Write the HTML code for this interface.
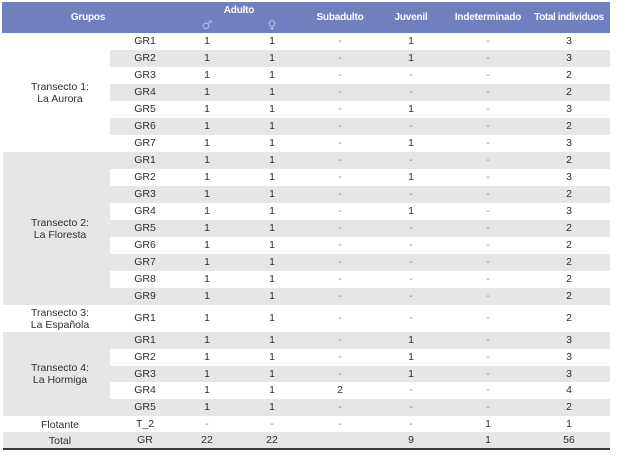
<!DOCTYPE html>
<html><head><meta charset="utf-8">
<style>
html,body{margin:0;padding:0;background:#fff;}
body{width:624px;height:455px;position:relative;overflow:hidden;font-family:"Liberation Sans",Arial,sans-serif;color:#2e2e2e;font-size:10.5px;}
.bg{position:absolute;background:#e6e6e6;}
.hd{position:absolute;left:2px;top:2px;width:608px;height:31px;background:#7080bf;}
.h{position:absolute;color:#fff;font-weight:bold;font-size:10px;letter-spacing:-0.2px;text-align:center;width:110px;margin-left:-55px;line-height:12px;}
.sym{position:absolute;color:#b4bde6;font-family:"DejaVu Sans",sans-serif;font-size:12px;width:20px;margin-left:-10px;text-align:center;line-height:12px;}
.row{position:absolute;left:0;width:624px;}
.row span{position:absolute;width:60px;text-align:center;}
.c1{left:115px}.c2{left:177px}.c3{left:242px}.c4{left:310px}.c5{left:381px}.c6{left:458px}.c7{left:539px}
.d{color:#888;}
.lab{position:absolute;left:0;width:120px;text-align:center;line-height:12px;}
.line{position:absolute;left:3px;top:448px;width:607px;height:2px;background:#3a3a3a;}
</style></head><body>
<div class="hd"></div>
<div class="h" style="left:88px;top:12px">Grupos</div>
<div class="h" style="left:239px;top:5px">Adulto</div>
<div class="sym" style="left:207px;top:19px">♂</div>
<div class="sym" style="left:272px;top:19px">♀</div>
<div class="h" style="left:340px;top:12px">Subadulto</div>
<div class="h" style="left:411px;top:12px">Juvenil</div>
<div class="h" style="left:488px;top:12px">Indeterminado</div>
<div class="h" style="left:569px;top:12px;letter-spacing:-0.4px">Total individuos</div>

<!-- backgrounds -->
<div class="bg" style="left:110px;top:50px;width:500px;height:17px"></div>
<div class="bg" style="left:110px;top:84px;width:500px;height:17px"></div>
<div class="bg" style="left:110px;top:118px;width:500px;height:17px"></div>
<div class="bg" style="left:3px;top:152px;width:107px;height:153px"></div>
<div class="bg" style="left:110px;top:152px;width:500px;height:17px"></div>
<div class="bg" style="left:110px;top:186px;width:500px;height:17px"></div>
<div class="bg" style="left:110px;top:220px;width:500px;height:17px"></div>
<div class="bg" style="left:110px;top:254px;width:500px;height:17px"></div>
<div class="bg" style="left:110px;top:288px;width:500px;height:17px"></div>
<div class="bg" style="left:3px;top:332px;width:107px;height:84px"></div>
<div class="bg" style="left:110px;top:332px;width:500px;height:16.8px"></div>
<div class="bg" style="left:110px;top:365.6px;width:500px;height:16.8px"></div>
<div class="bg" style="left:110px;top:399.2px;width:500px;height:16.8px"></div>
<div class="bg" style="left:3px;top:432px;width:607px;height:16px"></div>

<!-- labels -->
<div class="lab" style="top:81px">Transecto 1:<br>La Aurora</div>
<div class="lab" style="top:217px">Transecto 2:<br>La Floresta</div>
<div class="lab" style="top:307px">Transecto 3:<br>La Española</div>
<div class="lab" style="top:362px">Transecto 4:<br>La Hormiga</div>
<div class="lab" style="top:418px;line-height:14px">Flotante</div>
<div class="lab" style="top:434px;line-height:14px">Total</div>

<!-- T1 -->
<div class="row" style="top:33px;line-height:17px"><span class="c1">GR1</span><span class="c2">1</span><span class="c3">1</span><span class="c4 d">-</span><span class="c5">1</span><span class="c6 d">-</span><span class="c7">3</span></div>
<div class="row" style="top:50px;line-height:17px"><span class="c1">GR2</span><span class="c2">1</span><span class="c3">1</span><span class="c4 d">-</span><span class="c5">1</span><span class="c6 d">-</span><span class="c7">3</span></div>
<div class="row" style="top:67px;line-height:17px"><span class="c1">GR3</span><span class="c2">1</span><span class="c3">1</span><span class="c4 d">-</span><span class="c5 d">-</span><span class="c6 d">-</span><span class="c7">2</span></div>
<div class="row" style="top:84px;line-height:17px"><span class="c1">GR4</span><span class="c2">1</span><span class="c3">1</span><span class="c4 d">-</span><span class="c5 d">-</span><span class="c6 d">-</span><span class="c7">2</span></div>
<div class="row" style="top:101px;line-height:17px"><span class="c1">GR5</span><span class="c2">1</span><span class="c3">1</span><span class="c4 d">-</span><span class="c5">1</span><span class="c6 d">-</span><span class="c7">3</span></div>
<div class="row" style="top:118px;line-height:17px"><span class="c1">GR6</span><span class="c2">1</span><span class="c3">1</span><span class="c4 d">-</span><span class="c5 d">-</span><span class="c6 d">-</span><span class="c7">2</span></div>
<div class="row" style="top:135px;line-height:17px"><span class="c1">GR7</span><span class="c2">1</span><span class="c3">1</span><span class="c4 d">-</span><span class="c5">1</span><span class="c6 d">-</span><span class="c7">3</span></div>
<!-- T2 -->
<div class="row" style="top:152px;line-height:17px"><span class="c1">GR1</span><span class="c2">1</span><span class="c3">1</span><span class="c4 d">-</span><span class="c5 d">-</span><span class="c6 d">-</span><span class="c7">2</span></div>
<div class="row" style="top:169px;line-height:17px"><span class="c1">GR2</span><span class="c2">1</span><span class="c3">1</span><span class="c4 d">-</span><span class="c5">1</span><span class="c6 d">-</span><span class="c7">3</span></div>
<div class="row" style="top:186px;line-height:17px"><span class="c1">GR3</span><span class="c2">1</span><span class="c3">1</span><span class="c4 d">-</span><span class="c5 d">-</span><span class="c6 d">-</span><span class="c7">2</span></div>
<div class="row" style="top:203px;line-height:17px"><span class="c1">GR4</span><span class="c2">1</span><span class="c3">1</span><span class="c4 d">-</span><span class="c5">1</span><span class="c6 d">-</span><span class="c7">3</span></div>
<div class="row" style="top:220px;line-height:17px"><span class="c1">GR5</span><span class="c2">1</span><span class="c3">1</span><span class="c4 d">-</span><span class="c5 d">-</span><span class="c6 d">-</span><span class="c7">2</span></div>
<div class="row" style="top:237px;line-height:17px"><span class="c1">GR6</span><span class="c2">1</span><span class="c3">1</span><span class="c4 d">-</span><span class="c5 d">-</span><span class="c6 d">-</span><span class="c7">2</span></div>
<div class="row" style="top:254px;line-height:17px"><span class="c1">GR7</span><span class="c2">1</span><span class="c3">1</span><span class="c4 d">-</span><span class="c5 d">-</span><span class="c6 d">-</span><span class="c7">2</span></div>
<div class="row" style="top:271px;line-height:17px"><span class="c1">GR8</span><span class="c2">1</span><span class="c3">1</span><span class="c4 d">-</span><span class="c5 d">-</span><span class="c6 d">-</span><span class="c7">2</span></div>
<div class="row" style="top:288px;line-height:17px"><span class="c1">GR9</span><span class="c2">1</span><span class="c3">1</span><span class="c4 d">-</span><span class="c5 d">-</span><span class="c6 d">-</span><span class="c7">2</span></div>
<!-- T3 -->
<div class="row" style="top:305px;line-height:27px"><span class="c1">GR1</span><span class="c2">1</span><span class="c3">1</span><span class="c4 d">-</span><span class="c5 d">-</span><span class="c6 d">-</span><span class="c7">2</span></div>
<!-- T4 -->
<div class="row" style="top:332px;line-height:16.8px"><span class="c1">GR1</span><span class="c2">1</span><span class="c3">1</span><span class="c4 d">-</span><span class="c5">1</span><span class="c6 d">-</span><span class="c7">3</span></div>
<div class="row" style="top:348.8px;line-height:16.8px"><span class="c1">GR2</span><span class="c2">1</span><span class="c3">1</span><span class="c4 d">-</span><span class="c5">1</span><span class="c6 d">-</span><span class="c7">3</span></div>
<div class="row" style="top:365.6px;line-height:16.8px"><span class="c1">GR3</span><span class="c2">1</span><span class="c3">1</span><span class="c4 d">-</span><span class="c5">1</span><span class="c6 d">-</span><span class="c7">3</span></div>
<div class="row" style="top:382.4px;line-height:16.8px"><span class="c1">GR4</span><span class="c2">1</span><span class="c3">1</span><span class="c4">2</span><span class="c5 d">-</span><span class="c6 d">-</span><span class="c7">4</span></div>
<div class="row" style="top:399.2px;line-height:16.8px"><span class="c1">GR5</span><span class="c2">1</span><span class="c3">1</span><span class="c4 d">-</span><span class="c5 d">-</span><span class="c6 d">-</span><span class="c7">2</span></div>
<!-- Flotante -->
<div class="row" style="top:416px;line-height:16px"><span class="c1">T_2</span><span class="c2 d">-</span><span class="c3 d">-</span><span class="c4 d">-</span><span class="c5 d">-</span><span class="c6">1</span><span class="c7">1</span></div>
<!-- Total -->
<div class="row" style="top:432px;line-height:16px"><span class="c1">GR</span><span class="c2">22</span><span class="c3">22</span><span class="c5">9</span><span class="c6">1</span><span class="c7">56</span></div>
<div class="line"></div>
</body></html>
